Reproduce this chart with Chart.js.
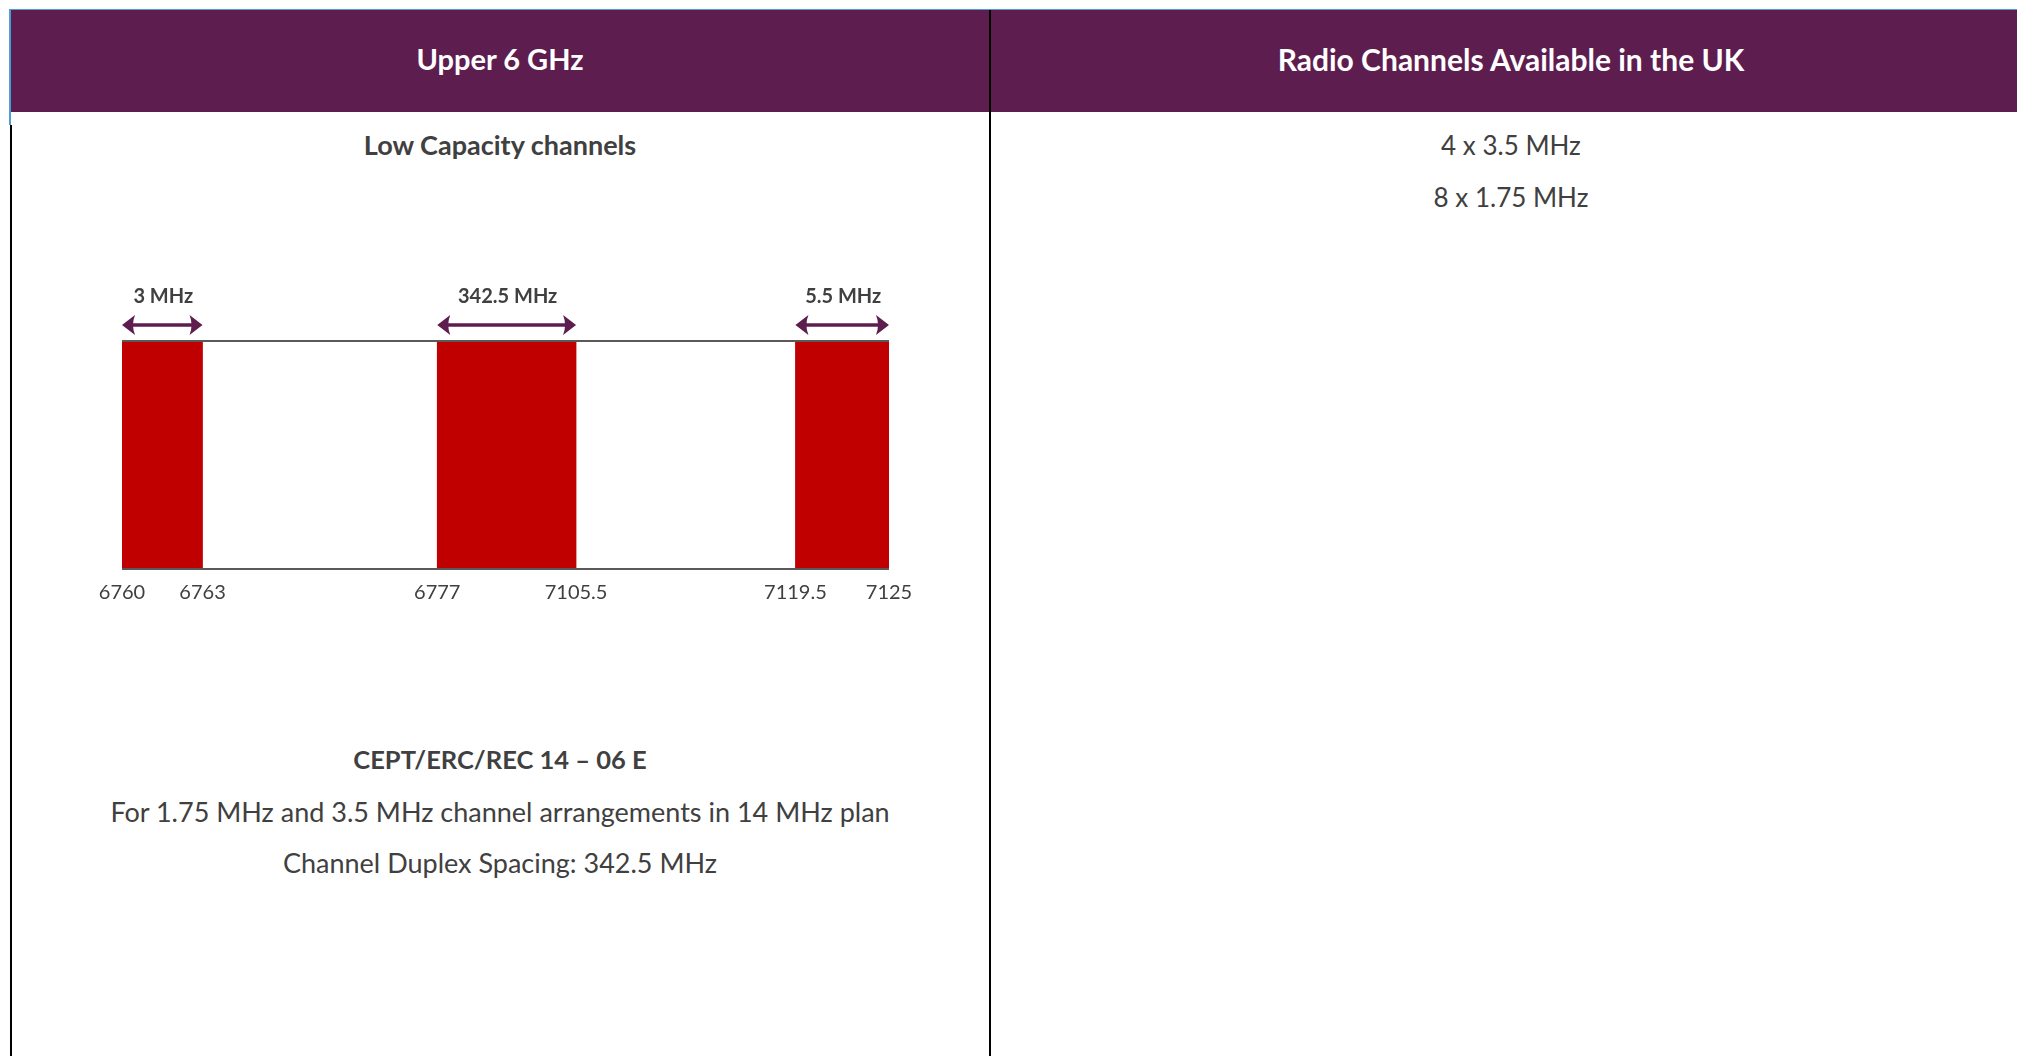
<!DOCTYPE html>
<html>
<head>
<meta charset="utf-8">
<script src="https://cdn.jsdelivr.net/npm/chart.js@4.4.1/dist/chart.umd.min.js"></script>
<style>
  body { margin: 0; width: 2017px; height: 1056px; background: #fff; overflow: hidden; position: relative; font-family: Lato, "Open Sans", sans-serif; }
  .abs { position: absolute; }
  .header { left: 10px; top: 10px; width: 2007px; height: 102px; background: #5E1D4F; }
  .txt { position: absolute; text-align: center; line-height: 40px; height: 40px; white-space: nowrap; color: #404040; }
  .left { left: 10px; width: 980px; }
  .right { left: 990px; width: 1042px; }
  .hd { color: #fff; font-weight: bold; }
  .b { font-weight: bold; }
  #wrap { position: absolute; left: 82px; top: 250px; width: 847px; height: 377px; }
</style>
</head>
<body>
<div class="abs header"></div>
<div class="abs" style="left:10px;top:9px;width:2007px;height:1px;background:#4A9FD4"></div>
<div class="abs" style="left:9px;top:9px;width:2px;height:116px;background:#4A9FD4"></div>
<div class="abs" style="left:10px;top:125px;width:2px;height:931px;background:#000"></div>
<div class="abs" style="left:989px;top:10px;width:2px;height:1046px;background:#000"></div>

<div class="txt left hd" style="top:39px;font-size:29px">Upper 6 GHz</div>
<div class="txt right hd" style="top:39px;font-size:30px">Radio Channels Available in the UK</div>

<div class="txt left b" style="top:125px;font-size:27px">Low Capacity channels</div>
<div class="txt right" style="top:125px;font-size:26px">4 x 3.5 MHz</div>
<div class="txt right" style="top:177px;font-size:26px">8 x 1.75 MHz</div>

<div class="txt left b" style="top:739px;font-size:25.5px">CEPT/ERC/REC 14 – 06 E</div>
<div class="txt left" style="top:792px;font-size:27px">For 1.75 MHz and 3.5 MHz channel arrangements in 14 MHz plan</div>
<div class="txt left" style="top:843px;font-size:27px">Channel Duplex Spacing: 342.5 MHz</div>

<div id="wrap"><canvas id="band"></canvas></div>

<script>
// band edges (MHz) and the channel blocks
const edges = [6760, 6763, 6777, 7105.5, 7119.5, 7125];
const channelStarts = [6760, 6777, 7119.5];
const channelEnds = [6763, 7105.5, 7125];
const widthLabels = ['3 MHz', '342.5 MHz', '5.5 MHz'];

// the drawing is schematic, so each edge gets its own place along the axis
const stops = [0, 0.105, 0.411, 0.592, 0.878, 1];

function toDecimal(v) {
    for (let i = 1; i < edges.length; i++) {
        if (v <= edges[i]) {
            const t = (v - edges[i - 1]) / (edges[i] - edges[i - 1]);
            return stops[i - 1] + t * (stops[i] - stops[i - 1]);
        }
    }
    return 1;
}
function fromDecimal(d) {
    for (let i = 1; i < stops.length; i++) {
        if (d <= stops[i]) {
            const t = (d - stops[i - 1]) / (stops[i] - stops[i - 1]);
            return edges[i - 1] + t * (edges[i] - edges[i - 1]);
        }
    }
    return edges[edges.length - 1];
}

class BandScale extends Chart.LinearScale {
    buildTicks() {
        return edges.map(v => ({ value: v }));
    }
    getPixelForValue(value) {
        return this.getPixelForDecimal(toDecimal(value));
    }
    getValueForPixel(pixel) {
        return fromDecimal(this.getDecimalForPixel(pixel));
    }
}
BandScale.id = 'band';
BandScale.defaults = Chart.LinearScale.defaults;
Chart.register(BandScale);

const purple = '#5E1D4F';

const frame = {
    id: 'frame',
    afterDatasetsDraw(chart) {
        const { ctx, chartArea } = chart;
        const x = chart.scales.x;
        ctx.save();
        ctx.strokeStyle = '#595959';
        ctx.lineWidth = 2;
        ctx.beginPath();
        ctx.moveTo(chartArea.left, chartArea.top);
        ctx.lineTo(chartArea.right, chartArea.top);
        ctx.moveTo(chartArea.left, chartArea.bottom);
        ctx.lineTo(chartArea.right, chartArea.bottom);
        ctx.stroke();

        // width arrows and labels
        const ay = chartArea.top - 16;
        channelStarts.forEach((s, i) => {
            const x1 = x.getPixelForValue(s);
            const x2 = x.getPixelForValue(channelEnds[i]);
            ctx.strokeStyle = purple;
            ctx.fillStyle = purple;
            ctx.lineWidth = 3.5;
            ctx.beginPath();
            ctx.moveTo(x1 + 6, ay);
            ctx.lineTo(x2 - 6, ay);
            ctx.stroke();
            [[x1, 1], [x2, -1]].forEach(([px, dir]) => {
                ctx.beginPath();
                ctx.moveTo(px, ay);
                ctx.lineTo(px + dir * 13, ay - 10);
                ctx.quadraticCurveTo(px + dir * 9, ay, px + dir * 13, ay + 10);
                ctx.closePath();
                ctx.fill();
            });
            ctx.fillStyle = '#404040';
            ctx.font = 'bold 20px Lato';
            ctx.textAlign = 'center';
            ctx.textBaseline = 'middle';
            ctx.fillText(widthLabels[i], (x1 + x2) / 2 + 1, chartArea.top - 44);
        });
        ctx.restore();
    }
};

const chart = new Chart(document.getElementById('band'), {
    type: 'bar',
    data: {
        labels: ['Upper 6 GHz'],
        datasets: channelStarts.map((s, i) => ({
            label: widthLabels[i],
            data: [[s, channelEnds[i]]],
            backgroundColor: '#C00000',
            borderWidth: 0,
            grouped: false,
            barPercentage: 1,
            categoryPercentage: 1
        }))
    },
    options: {
        indexAxis: 'y',
        responsive: true,
        maintainAspectRatio: false,
        animation: false,
        layout: { padding: { left: 40, right: 40, top: 91, bottom: 10 } },
        plugins: { legend: { display: false }, tooltip: { enabled: false } },
        scales: {
            x: {
                type: 'band',
                min: 6760,
                max: 7125,
                grid: { display: false, drawTicks: false },
                border: { display: false },
                ticks: {
                    autoSkip: false,
                    maxRotation: 0,
                    padding: 12,
                    color: '#404040',
                    font: { family: 'Lato', size: 20 },
                    callback: v => String(v)
                }
            },
            y: { display: false }
        }
    },
    plugins: [frame]
});
</script>
</body>
</html>
